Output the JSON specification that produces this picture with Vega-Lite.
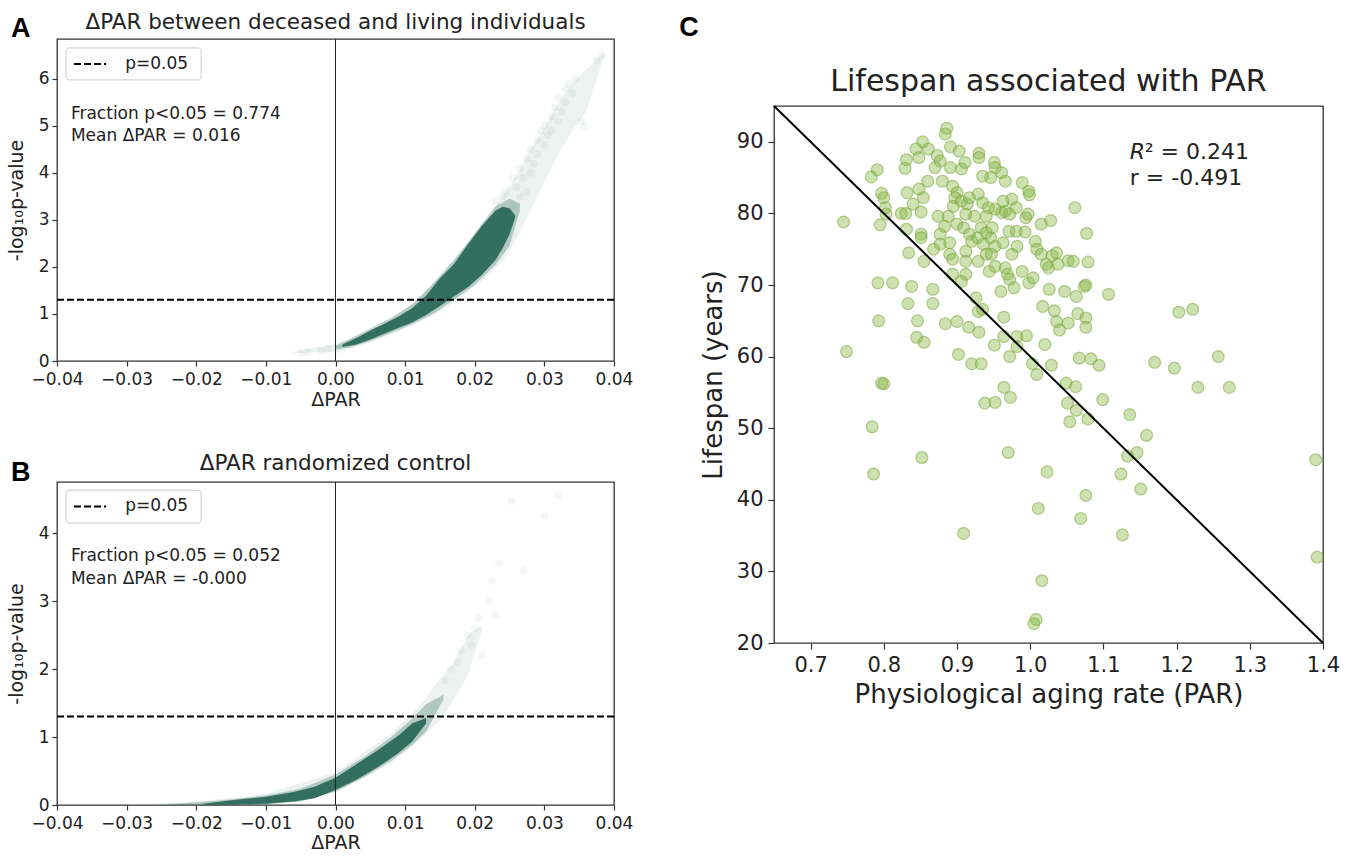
{
"$schema": "https://vega.github.io/schema/vega-lite/v6.json",
"background": "white",
"padding": {"left": 6, "top": 11, "right": 5, "bottom": 0},
"config": {
  "font": "DejaVu Sans",
  "view": {"stroke": "#333333", "strokeWidth": 1.3},
  "axis": {"grid": false, "domain": false, "tickColor": "#333333", "tickSize": 5, "tickWidth": 1.2, "labelColor": "#222222", "titleColor": "#222222", "titleFontWeight": "normal", "labelFont": "DejaVu Sans", "titleFont": "DejaVu Sans", "labelPadding": 3, "labelOverlap": false, "labelFlush": false, "labelBound": false},
  "title": {"font": "DejaVu Sans", "fontWeight": "normal", "color": "#222222"}
},
"datasets": {
  "a_halo": [
    {"x": -0.006, "lo": 0.17, "hi": 0.2}, {"x": -0.003, "lo": 0.18, "hi": 0.28}, {"x": 0.0, "lo": 0.2, "hi": 0.36},
    {"x": 0.003, "lo": 0.3, "hi": 0.5}, {"x": 0.006, "lo": 0.45, "hi": 0.72}, {"x": 0.009, "lo": 0.62, "hi": 0.98},
    {"x": 0.012, "lo": 0.82, "hi": 1.35}, {"x": 0.015, "lo": 1.05, "hi": 1.8}, {"x": 0.018, "lo": 1.35, "hi": 2.3},
    {"x": 0.021, "lo": 1.7, "hi": 2.85}, {"x": 0.024, "lo": 2.1, "hi": 3.5}, {"x": 0.026, "lo": 2.6, "hi": 3.95},
    {"x": 0.028, "lo": 3.2, "hi": 4.5}, {"x": 0.03, "lo": 3.8, "hi": 4.95}, {"x": 0.032, "lo": 4.4, "hi": 5.5},
    {"x": 0.034, "lo": 4.9, "hi": 5.9}, {"x": 0.036, "lo": 5.3, "hi": 6.2}, {"x": 0.0385, "lo": 6.45, "hi": 6.55}
  ],
  "a_mid": [
    {"x": 0.0, "lo": 0.25, "hi": 0.33}, {"x": 0.002, "lo": 0.28, "hi": 0.47}, {"x": 0.005, "lo": 0.42, "hi": 0.69},
    {"x": 0.008, "lo": 0.6, "hi": 0.92}, {"x": 0.011, "lo": 0.78, "hi": 1.2}, {"x": 0.014, "lo": 1.0, "hi": 1.65},
    {"x": 0.017, "lo": 1.3, "hi": 2.15}, {"x": 0.02, "lo": 1.62, "hi": 2.72}, {"x": 0.023, "lo": 2.05, "hi": 3.3},
    {"x": 0.025, "lo": 2.45, "hi": 3.45}, {"x": 0.0265, "lo": 3.2, "hi": 3.35}
  ],
  "a_core": [
    {"x": 0.001, "lo": 0.3, "hi": 0.35}, {"x": 0.003, "lo": 0.35, "hi": 0.49}, {"x": 0.005, "lo": 0.46, "hi": 0.65},
    {"x": 0.007, "lo": 0.58, "hi": 0.79}, {"x": 0.009, "lo": 0.7, "hi": 0.94}, {"x": 0.011, "lo": 0.82, "hi": 1.12},
    {"x": 0.013, "lo": 0.98, "hi": 1.39}, {"x": 0.015, "lo": 1.17, "hi": 1.76}, {"x": 0.017, "lo": 1.37, "hi": 2.06},
    {"x": 0.019, "lo": 1.57, "hi": 2.48}, {"x": 0.021, "lo": 1.83, "hi": 2.87}, {"x": 0.023, "lo": 2.15, "hi": 3.2},
    {"x": 0.024, "lo": 2.4, "hi": 3.28}, {"x": 0.025, "lo": 2.69, "hi": 3.25}, {"x": 0.0258, "lo": 3.05, "hi": 3.1}
  ],
  "a_tail": [
    {"x": 0.0245, "y": 3.6}, {"x": 0.0255, "y": 3.9}, {"x": 0.026, "y": 3.7}, {"x": 0.0265, "y": 4.1}, {"x": 0.027, "y": 3.9},
    {"x": 0.0275, "y": 4.3}, {"x": 0.028, "y": 4.0}, {"x": 0.028, "y": 4.5}, {"x": 0.0285, "y": 4.2}, {"x": 0.029, "y": 4.7},
    {"x": 0.029, "y": 4.4}, {"x": 0.0295, "y": 4.9}, {"x": 0.03, "y": 4.6}, {"x": 0.03, "y": 5.0}, {"x": 0.0305, "y": 4.8},
    {"x": 0.031, "y": 5.2}, {"x": 0.031, "y": 4.9}, {"x": 0.0315, "y": 5.4}, {"x": 0.032, "y": 5.1}, {"x": 0.032, "y": 5.6},
    {"x": 0.0325, "y": 5.3}, {"x": 0.033, "y": 5.8}, {"x": 0.033, "y": 5.5}, {"x": 0.0335, "y": 5.9}, {"x": 0.034, "y": 5.7},
    {"x": 0.0353, "y": 5.1}, {"x": 0.0358, "y": 5.0}, {"x": 0.0345, "y": 6.0}, {"x": 0.0383, "y": 6.5}, {"x": 0.0375, "y": 6.4},
    {"x": 0.0275, "y": 3.6}, {"x": 0.0265, "y": 3.5}, {"x": 0.0255, "y": 3.3}, {"x": 0.024, "y": 3.5}, {"x": 0.023, "y": 3.4},
    {"x": -0.005, "y": 0.17}, {"x": -0.004, "y": 0.19}, {"x": -0.002, "y": 0.22}, {"x": -0.001, "y": 0.24}, {"x": 0.0005, "y": 0.26}
  ],
  "b_halo": [
    {"x": -0.026, "lo": 0.0, "hi": 0.01}, {"x": -0.02, "lo": 0.0, "hi": 0.05}, {"x": -0.01, "lo": 0.0, "hi": 0.16},
    {"x": 0.0, "lo": 0.18, "hi": 0.48}, {"x": 0.008, "lo": 0.62, "hi": 1.05}, {"x": 0.012, "lo": 0.95, "hi": 1.45},
    {"x": 0.015, "lo": 1.25, "hi": 1.85}, {"x": 0.017, "lo": 1.55, "hi": 2.1}, {"x": 0.019, "lo": 1.9, "hi": 2.5},
    {"x": 0.021, "lo": 2.55, "hi": 2.65}
  ],
  "b_mid": [
    {"x": -0.024, "lo": 0.0, "hi": 0.01}, {"x": -0.02, "lo": 0.0, "hi": 0.04}, {"x": -0.015, "lo": 0.0, "hi": 0.08},
    {"x": -0.01, "lo": 0.01, "hi": 0.14}, {"x": -0.005, "lo": 0.05, "hi": 0.24}, {"x": 0.0, "lo": 0.2, "hi": 0.45},
    {"x": 0.004, "lo": 0.4, "hi": 0.7}, {"x": 0.008, "lo": 0.65, "hi": 1.0}, {"x": 0.011, "lo": 0.88, "hi": 1.27},
    {"x": 0.013, "lo": 1.08, "hi": 1.48}, {"x": 0.0155, "lo": 1.55, "hi": 1.62}
  ],
  "b_core": [
    {"x": -0.019, "lo": 0.0, "hi": 0.02}, {"x": -0.015, "lo": 0.005, "hi": 0.07}, {"x": -0.01, "lo": 0.02, "hi": 0.12},
    {"x": -0.006, "lo": 0.05, "hi": 0.19}, {"x": -0.003, "lo": 0.1, "hi": 0.27}, {"x": 0.0, "lo": 0.22, "hi": 0.4},
    {"x": 0.003, "lo": 0.37, "hi": 0.6}, {"x": 0.006, "lo": 0.55, "hi": 0.8}, {"x": 0.009, "lo": 0.76, "hi": 1.02},
    {"x": 0.011, "lo": 0.93, "hi": 1.2}, {"x": 0.013, "lo": 1.2, "hi": 1.28}
  ],
  "b_tail": [
    {"x": 0.019, "y": 2.5}, {"x": 0.018, "y": 2.27}, {"x": 0.02, "y": 2.6}, {"x": 0.021, "y": 2.2}, {"x": 0.0235, "y": 3.55},
    {"x": 0.027, "y": 3.45}, {"x": 0.0253, "y": 4.47}, {"x": 0.03, "y": 4.25}, {"x": 0.032, "y": 4.55}, {"x": 0.023, "y": 2.8},
    {"x": 0.0157, "y": 1.83}, {"x": 0.0165, "y": 2.0}, {"x": 0.0175, "y": 2.1}, {"x": 0.0195, "y": 2.35}, {"x": 0.022, "y": 3.0},
    {"x": 0.0225, "y": 3.3}, {"x": 0.0205, "y": 2.75}
  ],
  "c_pts": [
    {"par": 0.886, "life": 91.9}, {"par": 0.884, "life": 91.1}, {"par": 0.853, "life": 90.0}, {"par": 0.844, "life": 89.0}, {"par": 0.861, "life": 89.0},
    {"par": 0.873, "life": 88.1}, {"par": 0.877, "life": 87.3}, {"par": 0.891, "life": 89.3}, {"par": 0.903, "life": 88.7}, {"par": 0.93, "life": 88.4},
    {"par": 0.93, "life": 87.8}, {"par": 0.831, "life": 87.5}, {"par": 0.848, "life": 87.8}, {"par": 0.829, "life": 86.3}, {"par": 0.783, "life": 85.1},
    {"par": 0.791, "life": 86.1}, {"par": 0.87, "life": 86.4}, {"par": 0.891, "life": 86.4}, {"par": 0.906, "life": 86.2}, {"par": 0.911, "life": 87.1},
    {"par": 0.935, "life": 85.2}, {"par": 0.951, "life": 87.1}, {"par": 0.952, "life": 86.4}, {"par": 0.961, "life": 85.7}, {"par": 0.946, "life": 85.0},
    {"par": 0.966, "life": 84.5}, {"par": 0.989, "life": 84.3}, {"par": 0.998, "life": 83.1}, {"par": 0.999, "life": 82.6}, {"par": 0.797, "life": 82.8},
    {"par": 0.8, "life": 82.2}, {"par": 0.832, "life": 82.9}, {"par": 0.848, "life": 83.4}, {"par": 0.86, "life": 84.5}, {"par": 0.88, "life": 84.5},
    {"par": 0.894, "life": 83.8}, {"par": 0.9, "life": 82.9}, {"par": 0.854, "life": 82.2}, {"par": 0.84, "life": 81.3}, {"par": 0.802, "life": 80.8},
    {"par": 0.803, "life": 79.9}, {"par": 0.824, "life": 80.0}, {"par": 0.83, "life": 80.0}, {"par": 0.851, "life": 80.2}, {"par": 0.874, "life": 79.6},
    {"par": 0.888, "life": 79.6}, {"par": 0.895, "life": 81.0}, {"par": 0.897, "life": 82.2}, {"par": 0.906, "life": 81.7}, {"par": 0.914, "life": 81.3},
    {"par": 0.917, "life": 82.2}, {"par": 0.929, "life": 82.7}, {"par": 0.935, "life": 81.5}, {"par": 0.943, "life": 80.8}, {"par": 0.952, "life": 80.6},
    {"par": 0.961, "life": 80.1}, {"par": 0.966, "life": 80.3}, {"par": 0.972, "life": 79.9}, {"par": 0.963, "life": 81.7}, {"par": 0.975, "life": 82.0},
    {"par": 0.981, "life": 80.8}, {"par": 0.94, "life": 79.6}, {"par": 0.924, "life": 79.6}, {"par": 0.912, "life": 79.9}, {"par": 0.9, "life": 78.5},
    {"par": 0.883, "life": 78.2}, {"par": 0.909, "life": 78.0}, {"par": 0.917, "life": 77.1}, {"par": 0.933, "life": 78.0}, {"par": 0.94, "life": 77.3},
    {"par": 0.948, "life": 78.0}, {"par": 0.971, "life": 77.5}, {"par": 0.981, "life": 77.5}, {"par": 0.993, "life": 77.4}, {"par": 0.994, "life": 79.4},
    {"par": 0.997, "life": 79.9}, {"par": 1.015, "life": 78.5}, {"par": 1.028, "life": 79.0}, {"par": 1.061, "life": 80.8}, {"par": 1.077, "life": 77.2},
    {"par": 0.795, "life": 78.4}, {"par": 0.745, "life": 78.8}, {"par": 0.831, "life": 77.8}, {"par": 0.851, "life": 77.1}, {"par": 0.851, "life": 76.6},
    {"par": 0.877, "life": 77.1}, {"par": 0.877, "life": 75.7}, {"par": 0.89, "life": 75.9}, {"par": 0.89, "life": 74.3}, {"par": 0.894, "life": 73.6},
    {"par": 0.912, "life": 74.7}, {"par": 0.92, "life": 76.1}, {"par": 0.928, "life": 76.6}, {"par": 0.936, "life": 75.7}, {"par": 0.946, "life": 76.6},
    {"par": 0.952, "life": 75.4}, {"par": 0.94, "life": 74.3}, {"par": 0.947, "life": 74.3}, {"par": 0.963, "life": 75.9}, {"par": 0.982, "life": 75.4},
    {"par": 0.975, "life": 74.3}, {"par": 1.007, "life": 76.1}, {"par": 1.009, "life": 75.0}, {"par": 1.015, "life": 74.3}, {"par": 1.022, "life": 72.9},
    {"par": 1.025, "life": 72.4}, {"par": 1.03, "life": 74.1}, {"par": 1.036, "life": 74.5}, {"par": 1.038, "life": 72.9}, {"par": 1.052, "life": 73.4},
    {"par": 1.059, "life": 73.3}, {"par": 1.079, "life": 73.2}, {"par": 0.868, "life": 75.0}, {"par": 0.855, "life": 73.3}, {"par": 0.834, "life": 74.5},
    {"par": 0.912, "life": 73.3}, {"par": 0.929, "life": 73.3}, {"par": 0.912, "life": 71.5}, {"par": 0.894, "life": 71.5}, {"par": 0.906, "life": 70.5},
    {"par": 0.944, "life": 71.9}, {"par": 0.952, "life": 72.6}, {"par": 0.966, "life": 72.4}, {"par": 0.969, "life": 71.5}, {"par": 0.972, "life": 70.8},
    {"par": 0.978, "life": 69.6}, {"par": 0.989, "life": 71.9}, {"par": 0.998, "life": 70.3}, {"par": 1.004, "life": 71.0}, {"par": 0.96, "life": 69.1},
    {"par": 1.076, "life": 70.0}, {"par": 1.074, "life": 69.8}, {"par": 0.792, "life": 70.3}, {"par": 0.812, "life": 70.3}, {"par": 0.838, "life": 69.8},
    {"par": 0.867, "life": 69.4}, {"par": 0.833, "life": 67.4}, {"par": 0.867, "life": 67.4}, {"par": 0.926, "life": 68.2}, {"par": 0.929, "life": 66.3},
    {"par": 0.935, "life": 66.6}, {"par": 1.026, "life": 69.4}, {"par": 1.047, "life": 69.1}, {"par": 1.063, "life": 68.4}, {"par": 1.107, "life": 68.7},
    {"par": 1.017, "life": 67.0}, {"par": 1.033, "life": 66.4}, {"par": 1.065, "life": 66.0}, {"par": 1.076, "life": 65.4}, {"par": 0.964, "life": 65.5},
    {"par": 1.076, "life": 64.1}, {"par": 1.036, "life": 64.9}, {"par": 1.04, "life": 63.7}, {"par": 1.052, "life": 64.7}, {"par": 0.793, "life": 65.0},
    {"par": 0.846, "life": 65.0}, {"par": 0.845, "life": 62.7}, {"par": 0.855, "life": 62.0}, {"par": 0.884, "life": 64.6}, {"par": 0.9, "life": 64.9},
    {"par": 0.916, "life": 64.1}, {"par": 0.93, "life": 63.4}, {"par": 0.951, "life": 61.6}, {"par": 0.964, "life": 62.8}, {"par": 0.982, "life": 62.8},
    {"par": 0.995, "life": 62.9}, {"par": 0.982, "life": 61.4}, {"par": 1.02, "life": 61.7}, {"par": 0.972, "life": 60.0}, {"par": 0.902, "life": 60.3},
    {"par": 0.92, "life": 59.0}, {"par": 0.933, "life": 59.0}, {"par": 1.003, "life": 59.0}, {"par": 1.009, "life": 57.5}, {"par": 1.029, "life": 58.8},
    {"par": 1.067, "life": 59.8}, {"par": 1.083, "life": 59.7}, {"par": 1.094, "life": 58.8}, {"par": 0.749, "life": 60.7}, {"par": 0.797, "life": 56.3},
    {"par": 0.8, "life": 56.2}, {"par": 0.964, "life": 55.7}, {"par": 0.973, "life": 54.3}, {"par": 0.938, "life": 53.5}, {"par": 0.952, "life": 53.6},
    {"par": 1.049, "life": 56.3}, {"par": 1.062, "life": 55.8}, {"par": 1.051, "life": 53.5}, {"par": 1.063, "life": 52.5}, {"par": 1.099, "life": 54.0},
    {"par": 1.079, "life": 51.3}, {"par": 1.054, "life": 50.9}, {"par": 1.136, "life": 51.9}, {"par": 1.159, "life": 49.0}, {"par": 1.17, "life": 59.2},
    {"par": 1.197, "life": 58.4}, {"par": 1.203, "life": 66.2}, {"par": 1.222, "life": 66.6}, {"par": 1.257, "life": 60.0}, {"par": 1.229, "life": 55.7},
    {"par": 1.272, "life": 55.7}, {"par": 0.784, "life": 50.2}, {"par": 0.852, "life": 45.9}, {"par": 0.786, "life": 43.6}, {"par": 0.97, "life": 46.6},
    {"par": 1.023, "life": 43.9}, {"par": 1.124, "life": 43.6}, {"par": 1.146, "life": 46.6}, {"par": 1.133, "life": 46.1}, {"par": 1.151, "life": 41.5},
    {"par": 1.076, "life": 40.6}, {"par": 1.011, "life": 38.8}, {"par": 1.069, "life": 37.4}, {"par": 0.909, "life": 35.3}, {"par": 1.126, "life": 35.1},
    {"par": 1.016, "life": 28.7}, {"par": 1.008, "life": 23.3}, {"par": 1.005, "life": 22.7}, {"par": 1.39, "life": 45.6}, {"par": 1.392, "life": 32.0}
  ]
},
"spacing": 44,
"hconcat": [
  {
    "bounds": "flush",
    "spacing": 121,
    "vconcat": [
      {
        "width": 557, "height": 322,
        "title": {"text": "ΔPAR between deceased and living individuals", "fontSize": 21.5, "offset": -18.25},
        "layer": [
          {"data": {"name": "a_halo"}, "mark": {"type": "area", "color": "#2c6a5a", "opacity": 0.09},
           "encoding": {
             "x": {"field": "x", "type": "quantitative", "scale": {"domain": [-0.04, 0.04], "nice": false, "zero": false},
                   "axis": {"title": "ΔPAR", "values": [-0.04, -0.03, -0.02, -0.01, 0, 0.01, 0.02, 0.03, 0.04], "format": ".2f", "labelFontSize": 17, "titleFontSize": 19, "titlePadding": 3, "labelPadding": 5}},
             "y": {"field": "lo", "type": "quantitative", "scale": {"domain": [0, 6.85], "nice": false},
                   "axis": {"title": "-log₁₀p-value", "values": [0, 1, 2, 3, 4, 5, 6], "format": "d", "labelFontSize": 17, "titleFontSize": 19, "titlePadding": 12}},
             "y2": {"field": "hi"}}},
          {"data": {"name": "a_mid"}, "mark": {"type": "area", "color": "#2c6a5a", "opacity": 0.3},
           "encoding": {"x": {"field": "x", "type": "quantitative"}, "y": {"field": "lo", "type": "quantitative"}, "y2": {"field": "hi"}}},
          {"data": {"name": "a_core"}, "mark": {"type": "area", "color": "#2c6a5a", "opacity": 0.95},
           "encoding": {"x": {"field": "x", "type": "quantitative"}, "y": {"field": "lo", "type": "quantitative"}, "y2": {"field": "hi"}}},
          {"data": {"name": "a_tail"}, "mark": {"type": "circle", "color": "#2c6a5a", "opacity": 0.06, "size": 60},
           "encoding": {"x": {"field": "x", "type": "quantitative"}, "y": {"field": "y", "type": "quantitative"}}},
          {"data": {"values": [{"zero": 0}]}, "mark": {"type": "rule", "color": "#222222", "strokeWidth": 1},
           "encoding": {"x": {"field": "zero", "type": "quantitative"}}},
          {"data": {"values": [{"p": 1.30103}]}, "mark": {"type": "rule", "color": "black", "strokeWidth": 2, "strokeDash": [7, 3]},
           "encoding": {"y": {"field": "p", "type": "quantitative"}}},
          {"data": {"values": [{"x1": -0.0387, "x2": -0.0193, "y1": 5.98, "y2": 6.66}]},
           "mark": {"type": "rect", "fill": "white", "stroke": "#cccccc", "strokeWidth": 1, "cornerRadius": 3},
           "encoding": {"x": {"field": "x1", "type": "quantitative"}, "x2": {"field": "x2"}, "y": {"field": "y1", "type": "quantitative"}, "y2": {"field": "y2"}}},
          {"data": {"values": [{"x1": -0.03756, "x2": -0.03296, "y": 6.32}]},
           "mark": {"type": "rule", "color": "black", "strokeWidth": 2, "strokeDash": [7, 3]},
           "encoding": {"x": {"field": "x1", "type": "quantitative"}, "x2": {"field": "x2"}, "y": {"field": "y", "type": "quantitative"}}},
          {"data": {"values": [{"x": -0.0302, "y": 6.32, "t": "p=0.05"}, {"x": -0.038, "y": 5.26, "t": "Fraction p<0.05 = 0.774"}, {"x": -0.038, "y": 4.78, "t": "Mean ΔPAR = 0.016"}]},
           "mark": {"type": "text", "align": "left", "baseline": "middle", "fontSize": 17, "color": "#222222"},
           "encoding": {"x": {"field": "x", "type": "quantitative"}, "y": {"field": "y", "type": "quantitative"}, "text": {"field": "t"}}},
          {"data": {"values": [{"x": -0.0452, "y": 7.06, "t": "A"}]},
           "mark": {"type": "text", "align": "center", "baseline": "middle", "fontSize": 27, "fontWeight": "bold", "font": "Liberation Sans", "color": "black"},
           "encoding": {"x": {"field": "x", "type": "quantitative"}, "y": {"field": "y", "type": "quantitative"}, "text": {"field": "t"}}}
        ]
      },
      {
        "width": 557, "height": 323,
        "title": {"text": "ΔPAR randomized control", "fontSize": 21.5, "offset": -15.25},
        "layer": [
          {"data": {"name": "b_halo"}, "mark": {"type": "area", "color": "#2c6a5a", "opacity": 0.09},
           "encoding": {
             "x": {"field": "x", "type": "quantitative", "scale": {"domain": [-0.04, 0.04], "nice": false, "zero": false},
                   "axis": {"title": "ΔPAR", "values": [-0.04, -0.03, -0.02, -0.01, 0, 0.01, 0.02, 0.03, 0.04], "format": ".2f", "labelFontSize": 17, "titleFontSize": 19, "titlePadding": 2, "labelPadding": 5}},
             "y": {"field": "lo", "type": "quantitative", "scale": {"domain": [0, 4.75], "nice": false},
                   "axis": {"title": "-log₁₀p-value", "values": [0, 1, 2, 3, 4], "format": "d", "labelFontSize": 17, "titleFontSize": 19, "titlePadding": 12}},
             "y2": {"field": "hi"}}},
          {"data": {"name": "b_mid"}, "mark": {"type": "area", "color": "#2c6a5a", "opacity": 0.3},
           "encoding": {"x": {"field": "x", "type": "quantitative"}, "y": {"field": "lo", "type": "quantitative"}, "y2": {"field": "hi"}}},
          {"data": {"name": "b_core"}, "mark": {"type": "area", "color": "#2c6a5a", "opacity": 0.95},
           "encoding": {"x": {"field": "x", "type": "quantitative"}, "y": {"field": "lo", "type": "quantitative"}, "y2": {"field": "hi"}}},
          {"data": {"name": "b_tail"}, "mark": {"type": "circle", "color": "#2c6a5a", "opacity": 0.05, "size": 60},
           "encoding": {"x": {"field": "x", "type": "quantitative"}, "y": {"field": "y", "type": "quantitative"}}},
          {"data": {"values": [{"zero": 0}]}, "mark": {"type": "rule", "color": "#222222", "strokeWidth": 1},
           "encoding": {"x": {"field": "zero", "type": "quantitative"}}},
          {"data": {"values": [{"p": 1.30103}]}, "mark": {"type": "rule", "color": "black", "strokeWidth": 2, "strokeDash": [7, 3]},
           "encoding": {"y": {"field": "p", "type": "quantitative"}}},
          {"data": {"values": [{"x1": -0.0387, "x2": -0.0193, "y1": 4.145, "y2": 4.63}]},
           "mark": {"type": "rect", "fill": "white", "stroke": "#cccccc", "strokeWidth": 1, "cornerRadius": 3},
           "encoding": {"x": {"field": "x1", "type": "quantitative"}, "x2": {"field": "x2"}, "y": {"field": "y1", "type": "quantitative"}, "y2": {"field": "y2"}}},
          {"data": {"values": [{"x1": -0.03756, "x2": -0.03296, "y": 4.39}]},
           "mark": {"type": "rule", "color": "black", "strokeWidth": 2, "strokeDash": [7, 3]},
           "encoding": {"x": {"field": "x1", "type": "quantitative"}, "x2": {"field": "x2"}, "y": {"field": "y", "type": "quantitative"}}},
          {"data": {"values": [{"x": -0.0302, "y": 4.39, "t": "p=0.05"}, {"x": -0.038, "y": 3.66, "t": "Fraction p<0.05 = 0.052"}, {"x": -0.038, "y": 3.33, "t": "Mean ΔPAR = -0.000"}]},
           "mark": {"type": "text", "align": "left", "baseline": "middle", "fontSize": 17, "color": "#222222"},
           "encoding": {"x": {"field": "x", "type": "quantitative"}, "y": {"field": "y", "type": "quantitative"}, "text": {"field": "t"}}},
          {"data": {"values": [{"x": -0.0452, "y": 4.88, "t": "B"}]},
           "mark": {"type": "text", "align": "center", "baseline": "middle", "fontSize": 27, "fontWeight": "bold", "font": "Liberation Sans", "color": "black"},
           "encoding": {"x": {"field": "x", "type": "quantitative"}, "y": {"field": "y", "type": "quantitative"}, "text": {"field": "t"}}}
        ]
      }
    ]
  },
  {
    "bounds": "flush",
    "spacing": 66,
    "vconcat": [
      {"width": 549, "height": 1, "view": {"stroke": null}, "data": {"values": []}, "mark": {"type": "point"}, "encoding": {}},
      {
        "width": 549, "height": 537,
        "title": {"text": "Lifespan associated with PAR", "fontSize": 30, "offset": -83.5},
        "layer": [
          {"data": {"name": "c_pts"}, "mark": {"type": "circle", "size": 140, "color": "#88b846", "fillOpacity": 0.42, "stroke": "#7aa83c", "strokeOpacity": 0.55, "strokeWidth": 1.2},
           "encoding": {
             "x": {"field": "par", "type": "quantitative", "scale": {"domain": [0.65, 1.4], "nice": false, "zero": false},
                   "axis": {"title": "Physiological aging rate (PAR)", "values": [0.7, 0.8, 0.9, 1.0, 1.1, 1.2, 1.3, 1.4], "format": ".1f", "labelFontSize": 21, "titleFontSize": 26, "titlePadding": 6, "tickSize": 6, "labelPadding": 5}},
             "y": {"field": "life", "type": "quantitative", "scale": {"domain": [20, 95], "nice": false, "zero": false},
                   "axis": {"title": "Lifespan (years)", "values": [20, 30, 40, 50, 60, 70, 80, 90], "format": "d", "labelFontSize": 21, "titleFontSize": 26, "titlePadding": 10, "tickSize": 6, "labelPadding": 5}}}},
          {"data": {"values": [{"par": 0.65, "fit": 95}, {"par": 1.4, "fit": 20}]}, "mark": {"type": "line", "color": "black", "strokeWidth": 2},
           "encoding": {"x": {"field": "par", "type": "quantitative"}, "y": {"field": "fit", "type": "quantitative"}}},
          {"data": {"values": [{"x": 1.136, "y": 88.6, "t": "R"}]},
           "mark": {"type": "text", "align": "left", "baseline": "middle", "fontSize": 22, "fontStyle": "italic", "color": "#222222"},
           "encoding": {"x": {"field": "x", "type": "quantitative"}, "y": {"field": "y", "type": "quantitative"}, "text": {"field": "t"}}},
          {"data": {"values": [{"x": 1.136, "y": 88.6, "t": "² = 0.241"}]},
           "mark": {"type": "text", "align": "left", "baseline": "middle", "fontSize": 22, "dx": 15, "color": "#222222"},
           "encoding": {"x": {"field": "x", "type": "quantitative"}, "y": {"field": "y", "type": "quantitative"}, "text": {"field": "t"}}},
          {"data": {"values": [{"x": 1.136, "y": 84.9, "t": "r = -0.491"}]},
           "mark": {"type": "text", "align": "left", "baseline": "middle", "fontSize": 22, "color": "#222222"},
           "encoding": {"x": {"field": "x", "type": "quantitative"}, "y": {"field": "y", "type": "quantitative"}, "text": {"field": "t"}}},
          {"data": {"values": [{"x": 0.534, "y": 105.9, "t": "C"}]},
           "mark": {"type": "text", "align": "center", "baseline": "middle", "fontSize": 27, "fontWeight": "bold", "font": "Liberation Sans", "color": "black"},
           "encoding": {"x": {"field": "x", "type": "quantitative"}, "y": {"field": "y", "type": "quantitative"}, "text": {"field": "t"}}}
        ]
      }
    ]
  }
]
}
